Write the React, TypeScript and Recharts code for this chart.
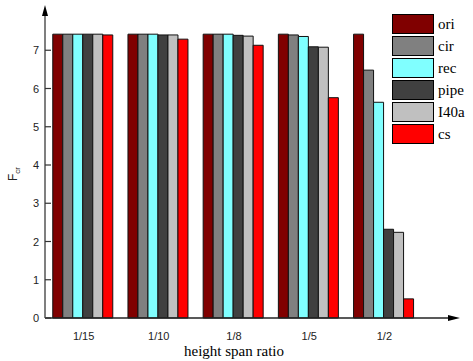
import React from "react";
import { BarChart, Bar, XAxis, YAxis, Legend } from "recharts";

const categories = ["1/15", "1/10", "1/8", "1/5", "1/2"];
const ori = [7.42, 7.42, 7.42, 7.42, 7.42];
const cir = [7.42, 7.42, 7.42, 7.4, 6.48];
const rec = [7.42, 7.42, 7.42, 7.36, 5.64];
const pipe = [7.42, 7.4, 7.39, 7.09, 2.32];
const i40a = [7.42, 7.4, 7.37, 7.08, 2.24];
const cs = [7.4, 7.29, 7.13, 5.76, 0.5];
const yTicks = [0, 1, 2, 3, 4, 5, 6, 7];

const seriesNames = ["ori", "cir", "rec", "pipe", "I40a", "cs"];
const seriesColors = ["#800000", "#808080", "#80FFFF", "#404040", "#C0C0C0", "#FF0000"];
const seriesValues = [ori, cir, rec, pipe, i40a, cs];

const data = categories.map((c, i) => {
  const row: any = { name: c };
  seriesNames.forEach((s, k) => (row[s] = seriesValues[k][i]));
  return row;
});

const sans = "'Liberation Sans', Arial, sans-serif";
const serif = "'Liberation Serif', 'Times New Roman', serif";

const YTick = (props: any) => {
  const { x, y, payload } = props;
  return (
    <g>
      <text x={x} y={y} dy={4} textAnchor="end" fontFamily={sans} fontSize={11} fill="#222">
        {payload.value}
      </text>
      <line x1={x + 6} x2={x + 12} y1={y} y2={y} stroke="#333" strokeWidth={1.2} />
    </g>
  );
};

const XTick = (props: any) => {
  const { x, y, payload } = props;
  return (
    <text x={x} y={y} dy={14} textAnchor="middle" fontFamily={sans} fontSize={11} fill="#222">
      {payload.value}
    </text>
  );
};

const LegendContent = () => (
  <div style={{ fontFamily: serif, fontSize: 15, color: "#000" }}>
    {seriesNames.map((s, k) => (
      <div key={s} style={{ display: "flex", alignItems: "center", height: 22 }}>
        <div
          style={{
            width: 40,
            height: 18,
            background: seriesColors[k],
            border: "1px solid #000",
            marginRight: 4,
          }}
        />
        <span>{s}</span>
      </div>
    ))}
  </div>
);

const YLabel = () => (
  <text transform="translate(17,181) rotate(-90)" fontFamily={sans} fontSize={12} fill="#222">
    <tspan>F</tspan>
    <tspan fontSize={8} dy={3}>cr</tspan>
  </text>
);

export default function App() {
  return (
    <div style={{ position: "absolute", left: 0, top: 0, width: 473, height: 361, background: "#fff" }}>
      <BarChart
        width={473}
        height={361}
        data={data}
        margin={{ top: 12, right: 21, bottom: 0, left: 0 }}
        barCategoryGap="9%"
        barGap={0}
      >
        <XAxis
          dataKey="name"
          tick={<XTick />}
          tickLine={false}
          axisLine={{ stroke: "#222", strokeWidth: 1.5 }}
          padding={{ left: 1, right: 30 }}
          height={43}
        />
        <YAxis
          domain={[0, 8]}
          ticks={yTicks}
          tick={<YTick />}
          tickLine={false}
          tickSize={0}
          tickMargin={6}
          width={45}
          axisLine={{ stroke: "#555", strokeWidth: 1.5 }}
          interval={0}
        />
        <Legend
          layout="vertical"
          align="center"
          verticalAlign="middle"
          content={<LegendContent />}
          wrapperStyle={{ position: "absolute", left: 392, top: 13, width: 80 }}
        />
        {seriesNames.map((s, k) => (
          <Bar
            key={s}
            dataKey={s}
            fill={seriesColors[k]}
            stroke="#111"
            strokeWidth={1}
            isAnimationActive={false}
          />
        ))}
      </BarChart>
      <svg width={473} height={361} style={{ position: "absolute", left: 0, top: 0, pointerEvents: "none" }}>
        <polygon points="45,5 42,16 48,16" fill="#000" />
        <polygon points="460,318 448,315 448,321" fill="#000" />
        <YLabel />
        <text x={234} y={356} textAnchor="middle" fontFamily={serif} fontSize={15} fill="#000">
          height span ratio
        </text>
      </svg>
    </div>
  );
}
